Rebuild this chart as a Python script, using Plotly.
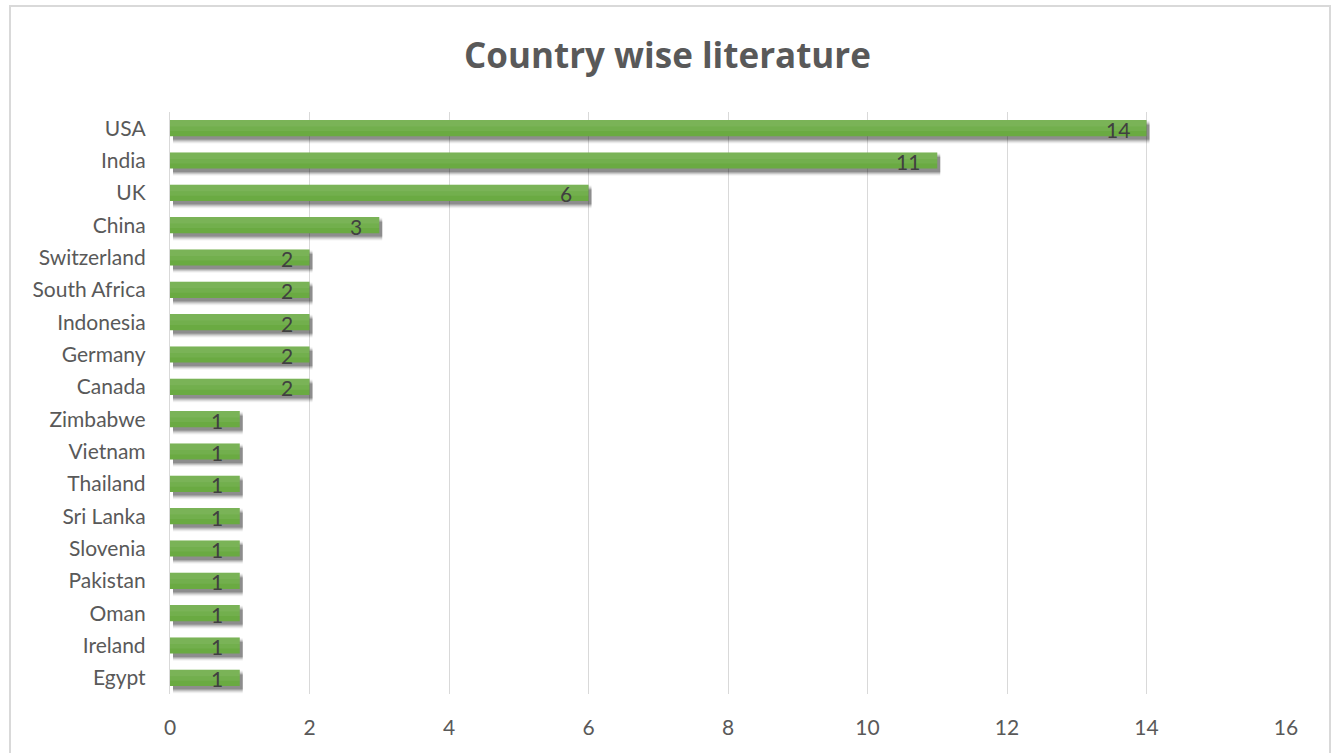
import plotly.graph_objects as go

# Countries listed top to bottom, with number of publications
countries = ["USA", "India", "UK", "China", "Switzerland", "South Africa",
             "Indonesia", "Germany", "Canada", "Zimbabwe", "Vietnam", "Thailand",
             "Sri Lanka", "Slovenia", "Pakistan", "Oman", "Ireland", "Egypt"]
counts = [14, 11, 6, 3, 2, 2, 2, 2, 2, 1, 1, 1, 1, 1, 1, 1, 1, 1]
x_ticks = [0, 2, 4, 6, 8, 10, 12, 14, 16]

FONT = "Lato, Carlito, Calibri, sans-serif"
TITLE_FONT = "Open Sans, sans-serif"
W, H = 1335, 753
L, R, T, B = 170, 49, 112, 59
plot_w = W - L - R
plot_h = H - T - B
n = len(countries)

x_range = [0, 16]
y_range = [n - 0.5, -0.5]

# drop-shadow offset (pixels) converted into axis units
sx_px, sy_px = 3, 4
sx = sx_px * (x_range[1] - x_range[0]) / plot_w
sy = sy_px * n / plot_h

fig = go.Figure()

# soft shadow layers behind the bars (base axes, shifted ranges)
for width, op in [(0.70, 0.05), (0.64, 0.07), (0.58, 0.10), (0.52, 0.14), (0.46, 0.18)]:
    fig.add_trace(go.Bar(
        x=counts, y=countries, orientation="h", width=width,
        marker=dict(color=f"rgba(0,0,0,{op})", line=dict(width=0)),
        hoverinfo="skip", showlegend=False, xaxis="x", yaxis="y"))

# main bars
fig.add_trace(go.Bar(
    x=counts, y=countries, orientation="h", width=0.5,
    marker=dict(color="#6AAA42", line=dict(width=0)),
    showlegend=False, xaxis="x2", yaxis="y2"))
# lighter upper part of each bar for a gentle vertical gradient
for w_, off, col in [(0.34, -0.25, "rgba(255,255,255,0.06)"),
                     (0.20, -0.25, "rgba(255,255,255,0.06)")]:
    fig.add_trace(go.Bar(
        x=counts, y=countries, orientation="h", width=w_, offset=off,
        marker=dict(color=col, line=dict(width=0)),
        hoverinfo="skip", showlegend=False, xaxis="x2", yaxis="y2"))

# value labels at the inside end of each bar
annotations = []
for c, v in zip(countries, counts):
    annotations.append(dict(
        x=v, y=c, xref="x2", yref="y2", text=str(v), showarrow=False,
        xanchor="right", yanchor="middle", xshift=-15, yshift=-1,
        font=dict(family=FONT, size=21, color="#404040")))

fig.update_layout(
    width=W, height=H,
    margin=dict(l=L, r=R, t=T, b=B),
    paper_bgcolor="white", plot_bgcolor="white",
    barmode="overlay",
    title=dict(text="<b>Country wise literature</b>", x=0.5, xanchor="center",
               y=1 - 56 / H, yanchor="middle", yref="container",
               font=dict(family=TITLE_FONT, size=35, color="#595959")),
    xaxis=dict(range=[x_range[0] - sx, x_range[1] - sx], showgrid=False,
               showticklabels=False, zeroline=False, showline=False),
    yaxis=dict(categoryorder="array", categoryarray=countries,
               range=[y_range[0] - sy, y_range[1] - sy], showgrid=False,
               showticklabels=False, zeroline=False, showline=False),
    xaxis2=dict(overlaying="x", range=x_range, tickvals=x_ticks,
                showgrid=True, gridcolor="#D9D9D9", gridwidth=1.3,
                zeroline=False, showline=False, ticks="",
                ticklabelstandoff=19,
                tickfont=dict(family=FONT, size=21, color="#595959")),
    yaxis2=dict(overlaying="y", categoryorder="array", categoryarray=countries,
                range=y_range, showgrid=False, zeroline=False,
                showline=True, linecolor="#D9D9D9", linewidth=1.3, ticks="",
                ticklabelstandoff=19,
                tickfont=dict(family=FONT, size=21, color="#595959")),
    annotations=annotations,
    shapes=[dict(type="rect", xref="paper", yref="paper",
                 x0=(10 - L) / plot_w, x1=(1330 - L) / plot_w,
                 y0=(H - B - 770) / plot_h, y1=(H - B - 6) / plot_h,
                 line=dict(color="#D9D9D9", width=2), fillcolor="rgba(0,0,0,0)",
                 layer="below")],
)

fig.write_html("out.html")
